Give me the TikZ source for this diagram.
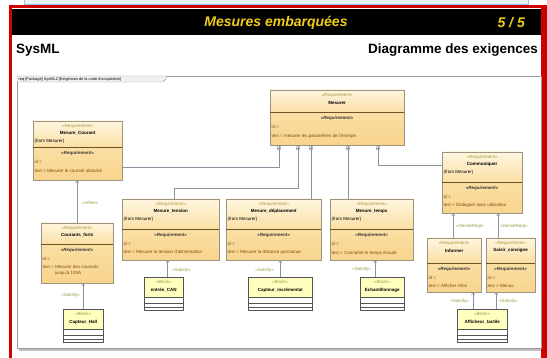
\documentclass[tikz,border=0pt]{standalone}
\usepackage{fontspec}
\setmainfont{Liberation Sans}
\usepackage{tikz}
\usetikzlibrary{positioning}
\usetikzlibrary{calc}
\usetikzlibrary{arrows.meta}

\definecolor{reqtop}{HTML}{FFF6E0}
\definecolor{reqmid}{HTML}{FADFA4}
\definecolor{reqbot}{HTML}{F8D48C}
\definecolor{reqline}{HTML}{9C9480}
\definecolor{sepline}{HTML}{6E5226}
\definecolor{stereo}{HTML}{A39A3A}
\definecolor{reqtext}{HTML}{7A4A14}
\definecolor{linkgray}{HTML}{8A94A0}
\definecolor{relgreen}{HTML}{8FA03A}
\definecolor{blockfill}{HTML}{FFFFC0}
\definecolor{blockline}{HTML}{555555}
\definecolor{titleyellow}{HTML}{F2CC1A}
\definecolor{framered}{HTML}{D00000}
\definecolor{stripblue}{HTML}{8EC5E6}
\definecolor{stripfill}{HTML}{E8F4FB}
\definecolor{framegray}{HTML}{9A9A9A}

\tikzset{reqfont/.style={font=\fontsize{4.5}{5.2}\selectfont, inner sep=0pt},
ster/.style={reqfont, text=stereo},
reqname/.style={reqfont, font=\fontsize{4.5}{5.2}\selectfont\bfseries},
reqhead/.style={reqfont, font=\fontsize{4.5}{5.2}\selectfont\bfseries\itshape, text=black!80},
rtext/.style={reqfont, text=reqtext},
relname/.style={reqfont, text=relgreen},
link/.style={draw=linkgray, line width=0.5pt},
rel/.style={draw=linkgray, line width=0.5pt, -{Straight Barb[length=2pt,width=3.5pt]}},
contain/.style={circle, draw=linkgray, fill=white, line width=0.4pt, minimum size=4pt, inner sep=0pt},
reqshape/.style={inner sep=0pt},
blockshape/.style={fill=white, inner sep=0pt},
titlefont/.style={font=\fontsize{14}{16}\selectfont\bfseries\itshape, text=titleyellow, inner sep=0pt},
headfont/.style={font=\fontsize{13.5}{15}\selectfont\bfseries, inner sep=0pt}}

% requirement box: name, x, y, width, height, header height, title, from-line, text
\newcommand{\reqbox}[9]{%
\node[reqshape, minimum width=#4pt, minimum height=#5pt, anchor=north west] (#1) at (#2,#3) {};
\shade[top color=reqtop, bottom color=reqmid] (#1.north west) rectangle ($(#1.north east)+(0,#6)$);
\shade[top color=reqmid, bottom color=reqbot] ($(#1.north west)+(0,#6)$) rectangle (#1.south east);
\draw[reqline, line width=0.5pt] (#1.north west) rectangle (#1.south east);
\draw[sepline, line width=0.7pt] ($(#1.north west)+(0,#6)$) -- ($(#1.north east)+(0,#6)$);
\node[ster] (#1-st) at ($(#1.north)+(0,5)$) {«Requirement»};
\node[reqname] (#1-nm) at ($(#1.north)+(0,12.5)$) {#7};
\node[reqfont, anchor=west] (#1-fr) at ($(#1.north west)+(1.5,20.5)$) {#8};
\node[reqhead] (#1-rq) at ($(#1.north)+(0,#6+6)$) {«Requirement»};
\node[rtext, anchor=west] (#1-id) at ($(#1.north west)+(1.5,#6+15)$) {id =};
\node[rtext, anchor=north west, align=left] (#1-tx) at ($(#1.north west)+(1.5,#6+21.5)$) {#9};
}
% block box: name, x, y, width, title
\newcommand{\blockbox}[5]{%
\node[blockshape, minimum width=#4pt, minimum height=33pt, anchor=north west] (#1) at (#2,#3) {};
\fill[blockfill] (#1.north west) rectangle ($(#1.north east)+(0,20)$);
\foreach \dy in {20, 26, 30}
  \draw[blockline, line width=0.4pt] ($(#1.north west)+(0,\dy)$) -- ($(#1.north east)+(0,\dy)$);
\draw[blockline, line width=0.5pt] (#1.north west) rectangle (#1.south east);
\node[ster] (#1-st) at ($(#1.north)+(0,5)$) {«Block»};
\node[reqname] (#1-nm) at ($(#1.north)+(0,13)$) {#5};
}

\begin{document}
\begin{tikzpicture}[x=1pt,y=-1pt]
\useasboundingbox (0,0) rectangle (547,358);
% page header
\draw[stripblue, fill=stripfill, line width=0.8pt] (24,-4) rectangle (528,4);
\fill[framered] (9,5) rectangle (547,370);
\fill[white] (12,8) rectangle (541,370);
\fill[black] (12,9) rectangle (541,35);
\node[titlefont] (title) at (276,23) {Mesures embarquées};
\node[titlefont, anchor=east] (page) at (525,23) {5 / 5};
\node[headfont, anchor=west] (sysml) at (16,50) {SysML};
\node[headfont, anchor=east] (kind) at (538,50) {Diagramme des exigences};

% diagram frame
\fill[black!25] (19,348) rectangle (541,351);
\draw[framegray, line width=0.6pt] (17,76) rectangle (541,348);
\draw[framegray, fill=black!6, line width=0.4pt] (17,76) -- (166,76) -- (166,79) -- (163,82) -- (17,82) -- cycle;
\node[reqfont, font=\fontsize{3.9}{4.5}\selectfont, anchor=west] (tab) at (18.5,79.2) {req [Package] SysML2 [Exigences de la carte d'acquisition]};

% requirements
\reqbox{mesurer}{270}{90}{134}{55}{22}{Mesurer}{}{text = mesurer les paramètres de l'énergie}
\reqbox{courant}{33}{121}{89}{59}{26}{Mesure\_Courant}{(from Mesurer)}{text = Mesurer le courant absorbé}
\reqbox{courants}{41}{223}{72}{60}{21}{Courants\_forts}{}{text = Mesurer des courants\\\phantom{text = }jusqu'à 100A}
\reqbox{tension}{122}{199}{97}{61}{30}{Mesure\_tension}{(from Mesurer)}{text = Mesurer la tension d'alimentation}
\reqbox{deplacement}{226}{199}{95}{61}{30}{Mesure\_déplacement}{(from Mesurer)}{text = Mesurer la distance parcourue}
\reqbox{temps}{330}{199}{83}{61}{30}{Mesure\_temps}{(from Mesurer)}{text = Connaître le temps écoulé}
\reqbox{communiquer}{442}{152}{80}{61}{30}{Communiquer}{(from Mesurer)}{text = Dialoguer avec utilisateur}
\reqbox{informer}{427}{238}{54}{54}{25}{Informer}{}{text = Afficher infos}
\reqbox{saisir}{486}{238}{49}{54}{25}{Saisir\_consigne}{}{text = Menus}

% blocks
\blockbox{hall}{63}{309}{40}{Capteur\_Hall}
\blockbox{can}{144}{277}{39}{entrée\_CAN}
\blockbox{incremental}{248}{277}{64}{Capteur\_incrémental}
\blockbox{echant}{360}{277}{44}{Echantillonnage}
\blockbox{afficheur}{457}{309}{50}{Afficheur\_tactile}

% containment
\foreach \i/\dx in {1/9, 2/28, 3/41, 4/78, 5/108} {
\node[contain] (k\i) at ($(mesurer.south west)+(\dx,2.5)$) {};
\draw[link, line width=0.4pt] (k\i.north) -- (k\i.south);
\draw[link, line width=0.4pt] (k\i.east) -- (k\i.west);
}
\draw[link] (k1.south) |- ($(courant.north east)+(0,46)$);
\draw[link] (k2.south) |- ($(tension.north west)+(52,-11)$) -- ($(tension.north west)+(52,0)$);
\draw[link] (k3.south) -- (k3.south |- deplacement.north);
\draw[link] (k4.south) -- (k4.south |- temps.north);
\draw[link] (k5.south) |- ($(communiquer.north west)+(0,13)$);

% refine / satisfy / derive
\coordinate (canout) at ($(can.north)+(4,0)$);
\coordinate (echout) at ($(echant.north)+(-7,0)$);
\coordinate (infin) at ($(informer.north)+(-1,0)$);
\coordinate (saiin) at ($(saisir.north)+(-12.5,0)$);
\coordinate (aff1) at ($(afficheur.north)+(-9,0)$);
\coordinate (aff2) at ($(afficheur.north)+(14,0)$);
\draw[rel] (courants.north) -- (courants.north |- courant.south);
\draw[rel] (hall.north) -- (hall.north |- courants.south);
\draw[rel] (canout) -- (canout |- tension.south);
\draw[rel] (incremental.north) -- (incremental.north |- deplacement.south);
\draw[rel] (echout) -- (echout |- temps.south);
\draw[rel] (infin) -- (infin |- communiquer.south);
\draw[rel] (saiin) -- (saiin |- communiquer.south);
\draw[rel] (aff1) -- (aff1 |- informer.south);
\draw[rel] (aff2) -- (aff2 |- saisir.south);
\node[relname, anchor=west] (l1) at (82,203) {«refine»};
\node[relname, anchor=east] (l2) at (80,295) {«Satisfy»};
\node[relname, anchor=west] (l3) at (172,270) {«Satisfy»};
\node[relname, anchor=east] (l4) at (274,270) {«Satisfy»};
\node[relname, anchor=east] (l5) at (371,269) {«Satisfy»};
\node[relname, anchor=west] (l6) at (456,226) {«DeriveReqt»};
\node[relname, anchor=west] (l7) at (500,226) {«DeriveReqt»};
\node[relname, anchor=east] (l8) at (469,301) {«Satisfy»};
\node[relname, anchor=west] (l9) at (499,301) {«Satisfy»};
\end{tikzpicture}
\end{document}
